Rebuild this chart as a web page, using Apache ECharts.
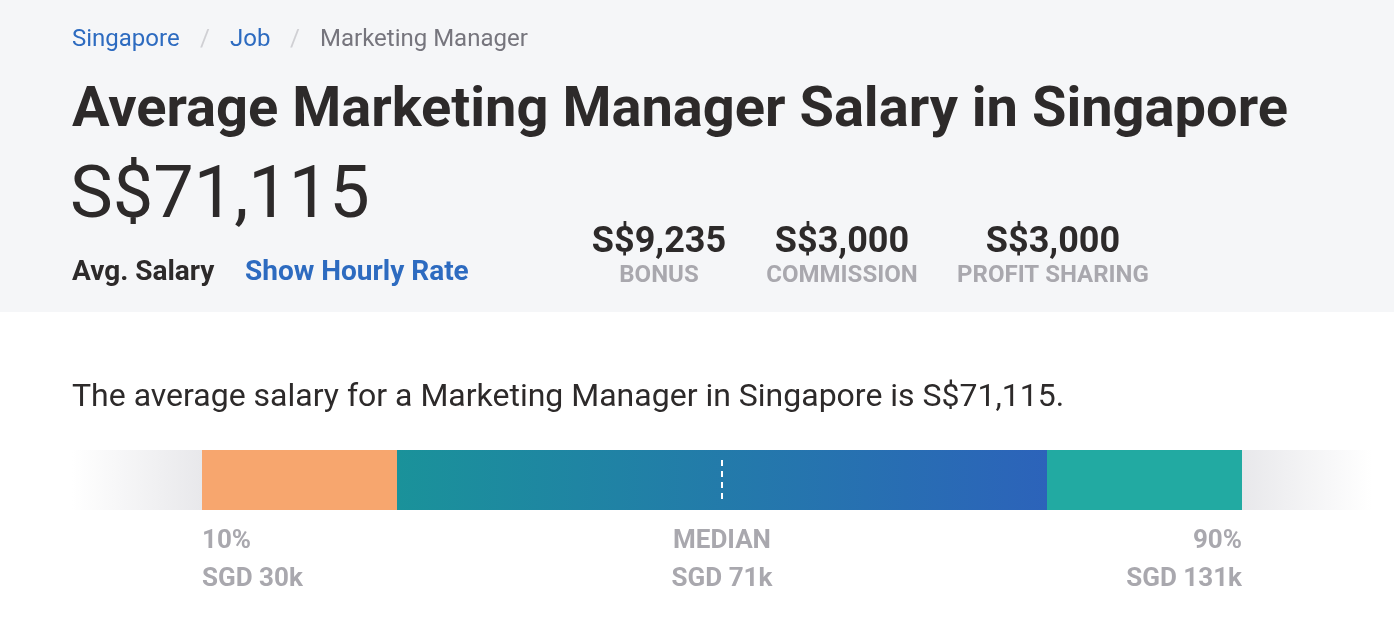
<!DOCTYPE html>
<html><head><meta charset="utf-8">
<script src="https://cdn.jsdelivr.net/npm/echarts@6/dist/echarts.min.js"></script>
<style>html,body{margin:0;padding:0;background:#fff}#c{width:1394px;height:636px}</style>
</head><body><div id="c"></div>
<script>
// ---- data ----
const breadcrumb = ['Singapore', 'Job', 'Marketing Manager'];
const title = 'Average Marketing Manager Salary in Singapore';
const avgSalary = 'S$71,115';
const extraValues = ['S$9,235', 'S$3,000', 'S$3,000'];
const extraLabels = ['BONUS', 'COMMISSION', 'PROFIT SHARING'];
const sentence = 'The average salary for a Marketing Manager in Singapore is S$71,115.';
const rangeBounds = [0, 10, 25, 75, 90, 100];          // percentile positions of segment edges
const markPercentiles = [10, 50, 90];                  // labelled percentiles
const markNames = ['10%', 'MEDIAN', '90%'];
const markSalaries = ['SGD 30k', 'SGD 71k', 'SGD 131k'];
const medianPercentile = 50;

const F = 'Roboto, "Noto Sans", sans-serif';
const chart = echarts.init(document.getElementById('c'), null, {renderer: 'canvas'});

const segColors = [
  new echarts.graphic.LinearGradient(0, 0, 1, 0, [{offset: 0, color: 'rgba(232,232,235,0)'}, {offset: 1, color: '#E8E8EB'}]),
  '#F7A66E',
  new echarts.graphic.LinearGradient(0, 0, 1, 0, [{offset: 0, color: '#1A929A'}, {offset: 1, color: '#2C63BA'}]),
  '#22AAA2',
  new echarts.graphic.LinearGradient(0, 0, 1, 0, [{offset: 0, color: '#E8E8EB'}, {offset: 1, color: 'rgba(232,232,235,0)'}])
];

const barSeries = [];
for (let i = 0; i < rangeBounds.length - 1; i++) {
  barSeries.push({
    type: 'bar', stack: 'range', barWidth: 60, silent: true,
    itemStyle: {color: segColors[i]},
    data: [rangeBounds[i + 1] - rangeBounds[i]]
  });
}

const aligns = ['left', 'center', 'right'];
const markData = markPercentiles.map((p, i) => [p, 0, i]);

const crumbX = [72, 230, 320];
const crumbColors = ['#2D6BC0', '#2D6BC0', '#76757D'];
const extraX = [659, 842, 1053];

const graphics = [
  {type: 'rect', shape: {x: 0, y: 0, width: 1394, height: 312}, style: {fill: '#F5F6F8'}, z: -10, silent: true}
];
breadcrumb.forEach((t, i) => {
  graphics.push({type: 'text', x: crumbX[i], y: 40, style: {text: t, font: '400 24px ' + F, fill: crumbColors[i], align: 'left', verticalAlign: 'middle'}});
});
[205, 295].forEach(x => graphics.push({type: 'text', x: x, y: 40, style: {text: '/', font: '400 24px ' + F, fill: '#D0D0D4', align: 'center', verticalAlign: 'middle'}}));
graphics.push({type: 'text', x: 72, y: 112, style: {text: title, font: '700 56px ' + F, fill: '#2D2A2A', align: 'left', verticalAlign: 'middle'}});
graphics.push({type: 'text', x: 70, y: 199, style: {text: avgSalary, font: '400 72px ' + F, fill: '#2D2A2A', align: 'left', verticalAlign: 'middle'}});
graphics.push({type: 'text', x: 72, y: 273, style: {text: 'Avg. Salary', font: '700 28px ' + F, fill: '#2D2A2A', align: 'left', verticalAlign: 'middle'}});
graphics.push({type: 'text', x: 245, y: 273, style: {text: 'Show Hourly Rate', font: '700 28px ' + F, fill: '#2D6BC0', align: 'left', verticalAlign: 'middle'}});
extraValues.forEach((v, i) => {
  graphics.push({type: 'text', x: extraX[i], y: 243, style: {text: v, font: '700 36px ' + F, fill: '#2D2A2A', align: 'center', verticalAlign: 'middle'}});
  graphics.push({type: 'text', x: extraX[i], y: 276, style: {text: extraLabels[i], font: '700 24px ' + F, fill: '#A9A8AE', align: 'center', verticalAlign: 'middle'}});
});
graphics.push({type: 'text', x: 72, y: 398, style: {text: sentence, font: '400 32px ' + F, fill: '#2D2A2A', align: 'left', verticalAlign: 'middle'}});

chart.setOption({
  backgroundColor: '#ffffff',
  animation: false,
  graphic: graphics,
  grid: {left: 72, right: 22, top: 450, height: 60},
  xAxis: {type: 'value', min: 0, max: 100, show: false},
  yAxis: {type: 'category', data: ['salary'], show: false},
  series: barSeries.concat([
    {
      type: 'custom', silent: true, clip: false, z: 10,
      data: [[medianPercentile, 0]],
      renderItem: (params, api) => {
        const pt = api.coord([api.value(0), api.value(1)]);
        return {type: 'line', shape: {x1: pt[0], y1: pt[1] - 20, x2: pt[0], y2: pt[1] + 20},
          style: {stroke: '#ffffff', lineWidth: 2, lineDash: [6, 5]}};
      }
    },
    {
      type: 'custom', silent: true, clip: false, z: 10,
      data: markData,
      renderItem: (params, api) => {
        const i = api.value(2);
        const pt = api.coord([api.value(0), api.value(1)]);
        return {type: 'group', children: [
          {type: 'text', style: {x: pt[0], y: pt[1] + 61, text: markNames[i], font: '700 26px ' + F, fill: '#A9A8AE', align: aligns[i], verticalAlign: 'middle'}},
          {type: 'text', style: {x: pt[0], y: pt[1] + 99, text: markSalaries[i], font: '700 26px ' + F, fill: '#A9A8AE', align: aligns[i], verticalAlign: 'middle'}}
        ]};
      }
    }
  ])
});
</script>
</body></html>
